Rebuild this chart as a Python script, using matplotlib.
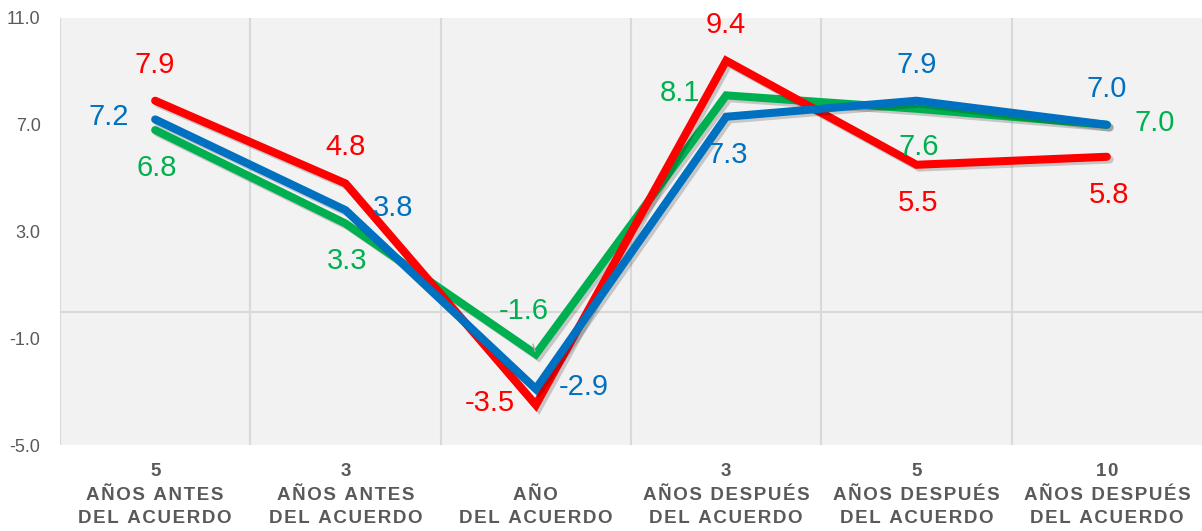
import matplotlib
matplotlib.use("Agg")
import matplotlib.pyplot as plt
import matplotlib.patheffects as pe

# Data
categories = [
    "5\nAÑOS ANTES\nDEL ACUERDO",
    "3\nAÑOS ANTES\nDEL ACUERDO",
    "\nAÑO\nDEL ACUERDO",
    "3\nAÑOS DESPUÉS\nDEL ACUERDO",
    "5\nAÑOS DESPUÉS\nDEL ACUERDO",
    "10\nAÑOS DESPUÉS\nDEL ACUERDO",
]
green_vals = [6.8, 3.3, -1.6, 8.1, 7.6, 7.0]
red_vals = [7.9, 4.8, -3.5, 9.4, 5.5, 5.8]
blue_vals = [7.2, 3.8, -2.9, 7.3, 7.9, 7.0]
y_ticks = [-5.0, -1.0, 3.0, 7.0, 11.0]

# Label placement per point (style only)
green_pos = ["below", "below", "above_leader", "left", "below", "right"]
red_pos = ["above", "above", "left", "above", "below", "below"]
blue_pos = ["left", "right", "right", "below", "above", "above"]

offsets = {
    "above": (0, 36),
    "below": (2, -38),
    "left": (-46, 2),
    "right": (48, 2),
    "above_leader": (-12, 43),
}

GREEN = "#00B050"
RED = "#FF0000"
BLUE = "#0070C0"
GRAY_TXT = "#595959"
GRID = "#D9D9D9"


def spaced(s):
    # emulate letter spacing with hair spaces
    out = []
    for line in s.split("\n"):
        out.append("\u200a".join(line))
    return "\n".join(out)


fig = plt.figure(figsize=(12.02, 5.31), dpi=100)
ax = fig.add_axes([60 / 1202, 1 - 445 / 531, 1142 / 1202, 427 / 531])
ax.set_facecolor("#F2F2F2")

x = list(range(len(categories)))

# grid lines
for gx in [i - 0.5 for i in range(len(categories))]:
    ax.axvline(gx, color=GRID, lw=1.5, zorder=1)
ax.axhline(0, color=GRID, lw=1.5, zorder=1)

shadow = [pe.SimpleLineShadow(offset=(2, -2), shadow_color="black", alpha=0.18),
          pe.Normal()]

series = [
    (green_vals, GREEN, green_pos),
    (red_vals, RED, red_pos),
    (blue_vals, BLUE, blue_pos),
]
for z, (vals, col, pos) in enumerate(series):
    ax.plot(x, vals, color=col, lw=5.8, solid_capstyle="round",
            solid_joinstyle="miter", path_effects=shadow, zorder=3 + z)

for z, (vals, col, pos) in enumerate(series):
    for xi, v, p in zip(x, vals, pos):
        dx, dy = offsets[p]
        kw = {}
        if p == "above_leader":
            kw["arrowprops"] = dict(arrowstyle="-", color="#A6A6A6", lw=1,
                                    shrinkA=12, shrinkB=2)
        ax.annotate(f"{v:.1f}", (xi, v), xytext=(dx, dy),
                    textcoords="offset pixels", ha="center", va="center",
                    color=col, fontsize=21, family="Liberation Sans",
                    zorder=10, **kw)

ax.set_xlim(-0.5, len(categories) - 0.5)
ax.set_ylim(-5, 11)
ax.set_yticks(y_ticks)
ax.set_yticklabels([f"{t:.1f}" for t in y_ticks], color=GRAY_TXT,
                   fontsize=13, family="Liberation Sans")
ax.set_xticks(x)
ax.set_xticklabels([spaced(c) for c in categories], color=GRAY_TXT,
                   fontsize=13.5, fontweight="bold", linespacing=1.5,
                   family=["Liberation Sans", "DejaVu Sans"])
ax.tick_params(axis="both", length=0)
ax.tick_params(axis="y", pad=14)
ax.tick_params(axis="x", pad=13)
for s in ax.spines.values():
    s.set_visible(False)

fig.savefig("out.png", dpi=100)
